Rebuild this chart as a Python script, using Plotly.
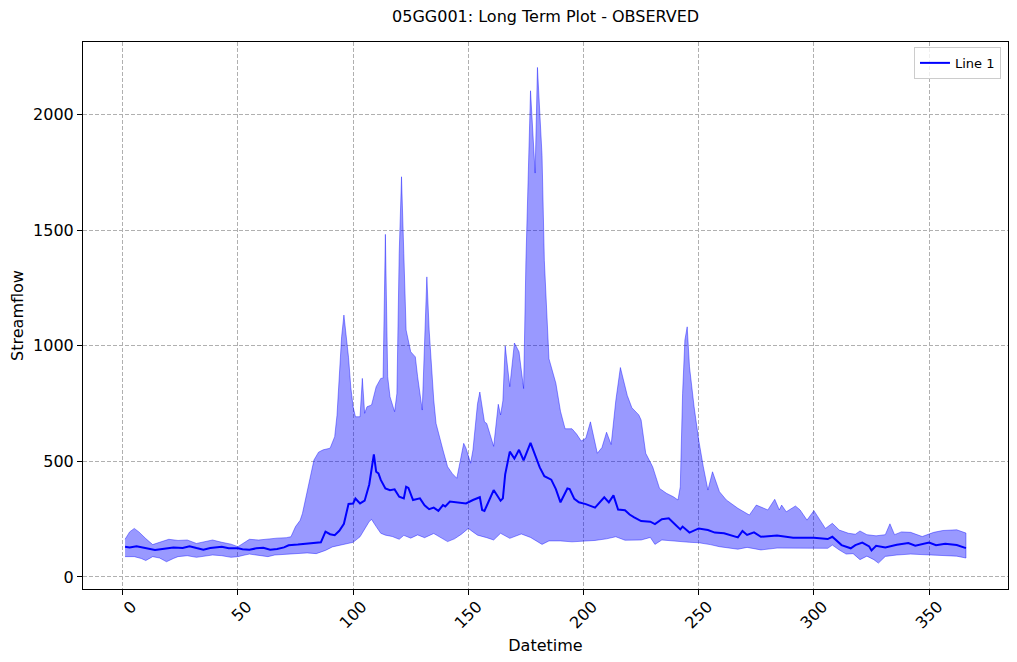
import plotly.graph_objects as go

# ---- data ----
upper_days = [1, 3, 5, 7, 10, 13, 16, 20, 24, 28, 32, 36, 39, 43, 47, 50, 53, 55, 59, 63, 67, 71, 73, 75, 77, 78,
              80, 82, 83, 85, 87, 90, 92, 93, 94, 95, 96, 97, 98, 99, 100, 101, 103, 104, 105, 106, 108, 110, 112,
              113, 114, 115, 116, 118, 119, 120, 121, 122, 123, 125, 127, 128, 130, 132, 133, 135, 136, 139, 141,
              143, 145, 146, 148, 149, 151, 152, 154, 155, 157, 158, 161, 163, 164, 165, 166, 168, 170, 172, 174,
              175, 177, 179, 180, 182, 183, 185, 188, 190, 192, 195, 197, 199, 201, 203, 206, 208, 210, 212, 214,
              216, 219, 221, 224, 225, 227, 230, 233, 236, 239, 241, 242, 243, 244, 245, 246, 248, 250, 252, 254,
              256, 259, 262, 267, 272, 275, 280, 283, 285, 286, 288, 292, 294, 297, 300, 305, 308, 311, 315, 318,
              320, 323, 327, 331, 333, 335, 338, 342, 347, 352, 356, 362, 366]
upper_vals = [163, 195, 210, 195, 166, 140, 150, 163, 158, 160, 145, 155, 160, 150, 142, 131, 150, 163, 160, 165,
              168, 170, 174, 218, 245, 275, 370, 450, 506, 540, 550, 557, 607, 700, 850, 1039, 1133, 1050, 950, 820,
              736, 693, 693, 859, 708, 736, 744, 823, 859, 860, 1482, 866, 780, 715, 794, 1400, 1731, 1400, 1068,
              974, 952, 866, 722, 1298, 1068, 765, 664, 549, 477, 448, 427, 477, 578, 557, 492, 549, 750, 800, 671,
              664, 565, 747, 701, 762, 1000, 823, 1012, 974, 815, 1368, 2103, 1747, 2204, 1823, 1368, 944, 838,
              717, 641, 641, 618, 588, 600, 671, 535, 560, 626, 573, 762, 906, 785, 732, 701, 679, 535, 477, 383,
              362, 347, 333, 390, 794, 1025, 1082, 909, 736, 592, 477, 376, 455, 369, 333, 297, 268, 311, 290, 336,
              290, 311, 282, 307, 290, 246, 287, 210, 232, 203, 189, 185, 199, 183, 178, 183, 230, 183, 195, 193,
              175, 193, 201, 204, 190]

median_days = [1, 3, 6, 10, 14, 18, 22, 26, 29, 32, 35, 38, 41, 43, 46, 50, 52, 55, 58, 61, 64, 67, 70, 72, 76,
               80, 84, 86, 88, 90, 92, 94, 96, 98, 100, 101, 103, 105, 107, 108, 109, 110, 111, 112, 114, 116, 118,
               120, 122, 123, 124, 126, 129, 131, 133, 135, 137, 139, 140, 142, 145, 149, 152, 155, 156, 157, 158,
               161, 164, 165, 166, 168, 170, 172, 174, 177, 179, 181, 183, 186, 188, 190, 193, 194, 196, 198, 201,
               205, 209, 211, 213, 215, 218, 220, 222, 225, 229, 231, 234, 237, 240, 242, 243, 246, 250, 254, 257,
               261, 267, 269, 271, 274, 277, 284, 291, 300, 306, 308, 312, 316, 318, 321, 324, 325, 327, 331, 336,
               341, 344, 350, 353, 357, 362, 366]
median_vals = [131, 128, 133, 125, 117, 122, 127, 125, 133, 125, 118, 125, 129, 131, 124, 124, 120, 118, 124, 126,
               118, 121, 128, 137, 140, 143, 146, 150, 196, 185, 181, 200, 230, 316, 318, 339, 318, 330, 400, 470,
               530, 455, 448, 420, 383, 375, 379, 347, 340, 390, 385, 333, 340, 310, 293, 300, 286, 311, 305, 326,
               322, 318, 333, 345, 290, 286, 308, 376, 330, 340, 444, 542, 512, 550, 504, 580, 527, 474, 436, 421,
               380, 323, 383, 380, 338, 323, 315, 300, 345, 323, 353, 292, 289, 270, 258, 242, 239, 229, 250, 254,
               225, 206, 218, 192, 210, 203, 192, 189, 171, 199, 182, 193, 174, 179, 170, 170, 164, 174, 138, 124,
               138, 149, 132, 115, 135, 128, 139, 147, 135, 149, 137, 144, 138, 125]

lower_days = [1, 5, 8, 10, 13, 16, 19, 22, 24, 28, 32, 36, 39, 43, 47, 50, 53, 55, 59, 63, 66, 70, 74, 77, 80, 84,
              88, 91, 95, 100, 103, 105, 107, 108, 110, 112, 114, 117, 120, 122, 125, 128, 131, 135, 138, 141, 144,
              147, 150, 152, 154, 158, 161, 164, 168, 173, 177, 182, 185, 190, 195, 200, 205, 210, 214, 218, 225,
              229, 231, 234, 238, 242, 246, 250, 255, 259, 263, 267, 271, 277, 284, 291, 300, 306, 308, 311, 314,
              317, 320, 323, 326, 328, 331, 336, 342, 350, 358, 362, 366]
lower_vals = [88, 88, 80, 71, 88, 82, 66, 80, 88, 92, 85, 90, 95, 92, 85, 88, 95, 99, 92, 88, 95, 95, 100, 102, 104,
              101, 115, 130, 140, 150, 174, 205, 240, 249, 218, 189, 181, 175, 163, 180, 168, 182, 170, 188, 170,
              153, 165, 185, 210, 195, 181, 170, 160, 189, 167, 186, 171, 141, 156, 156, 152, 156, 158, 165, 174,
              159, 160, 171, 141, 160, 155, 153, 150, 148, 140, 131, 125, 120, 128, 117, 125, 124, 124, 124, 138,
              117, 99, 101, 75, 90, 75, 60, 89, 95, 99, 96, 92, 90, 82]

x_ticks = [0, 50, 100, 150, 200, 250, 300, 350]
y_ticks = [0, 500, 1000, 1500, 2000]

title_text = "05GG001: Long Term Plot - OBSERVED"
x_label = "Datetime"
y_label = "Streamflow"
series_name = "Line 1"

FONT = "DejaVu Sans"

fig = go.Figure()

# min-max band
fig.add_trace(go.Scatter(
    x=upper_days + lower_days[::-1],
    y=upper_vals + lower_vals[::-1],
    fill="toself",
    fillcolor="rgba(0,0,255,0.4)",
    line=dict(color="rgba(0,0,255,0.4)", width=1),
    mode="lines",
    showlegend=False,
    hoverinfo="skip",
))

# median line
fig.add_trace(go.Scatter(
    x=median_days,
    y=median_vals,
    mode="lines",
    line=dict(color="#0000ff", width=2),
    name=series_name,
))

axis_common = dict(
    showline=True, linecolor="black", linewidth=1, mirror=True,
    ticks="outside", ticklen=5, tickwidth=1, tickcolor="black",
    showgrid=True, gridcolor="#b0b0b0", gridwidth=1, griddash="4px,2px",
    zeroline=False,
    tickfont=dict(family=FONT, size=16, color="black"),
)

fig.update_xaxes(
    **axis_common,
    range=[-17.25, 384.25],
    tickvals=x_ticks,
    ticktext=[str(v) for v in x_ticks],
    tickangle=-45,
    ticklabelshift=9,
    ticklabelstandoff=-4,
    title=dict(text=x_label, font=dict(family=FONT, size=16, color="black"), standoff=8),
)
fig.update_yaxes(
    **axis_common,
    range=[-52, 2314],
    tickvals=y_ticks,
    ticktext=[str(v) for v in y_ticks],
    title=dict(text=y_label, font=dict(family=FONT, size=16, color="black"), standoff=5),
)

fig.update_layout(
    width=1017, height=662,
    margin=dict(l=83, r=9, t=42, b=73, autoexpand=False),
    plot_bgcolor="white", paper_bgcolor="white",
    font=dict(family=FONT, color="black"),
    title=dict(text=title_text, x=0.5365, xanchor="center", y=1 - 16.5 / 662, yanchor="middle",
               font=dict(family=FONT, size=16, color="black")),
    legend=dict(
        x=0.9924, xanchor="right", y=0.991, yanchor="top",
        bgcolor="rgba(255,255,255,0.8)", bordercolor="#cccccc", borderwidth=1,
        font=dict(family=FONT, size=13, color="black"),
        itemwidth=30,
    ),
    showlegend=True,
)

fig.write_html("out.html")
